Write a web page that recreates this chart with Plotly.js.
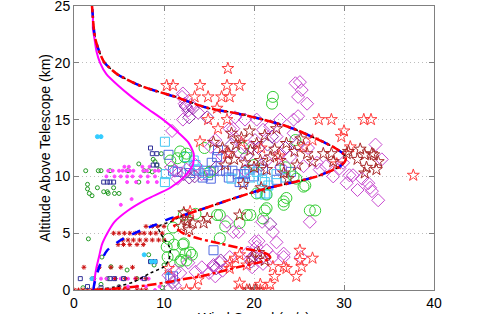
<!DOCTYPE html>
<html><head><meta charset="utf-8">
<script src="https://cdn.plot.ly/plotly-3.0.1.min.js"></script>
<style>html,body{margin:0;padding:0;background:#fff}#c{width:479px;height:314px}</style>
</head><body><div id="c"></div>
<script>
// ---- profile curves (wind speed m/s vs altitude km) ----
const magAlt = [0,1,2,3,4,5,6,7,8,9,10,11,12,13,14,15,16,17,18,19,20,21,22,23,24,25];
const magSpd = [2.2,2.3,2.5,2.8,3.1,3.7,4.5,6.0,8.1,10.7,12.3,13.2,13.3,12.7,11.4,9.9,8.1,6.4,4.9,3.6,2.9,2.5,2.3,2.1,2.1,2.0];

const blueAlt = [0,0.3,1,2,3,3.5,4.4,5.1,5.7,6.3,6.6,7,8,8.8,9.15,9.5,10,10.5,10.85,11.3,11.6,12,12.5,13,13.5,14,14.5,15,15.5,16,16.5,17,17.5,18,19,20,21,22,23,24,25];
const blueSpd = [2.2,2.2,2.4,2.8,3.3,3.7,5.2,7.0,8.9,10.7,12.2,13.8,17.5,20.7,22.5,24.5,27.0,28.6,29.5,30.1,30.2,29.9,29.0,27.8,26.4,25.0,23.3,21.0,18.4,15.0,13.0,11.3,9.2,7.3,4.8,3.4,2.8,2.4,2.2,2.1,2.0];

const redAlt = [0,0.15,0.4,0.7,0.9,1.2,1.6,2.05,2.45,2.8,3.1,3.4,3.7,4.1,4.5,5.0,5.6,6.2,6.6,7,8,8.8,9.15,9.5,10,10.5,10.85,11.3,11.6,12,12.5,13,13.5,14,14.5,15,15.5,16,16.5,17,17.5,18,19,20,21,22,23,24,25];
const redSpd = [2.2,5.0,8.0,10.5,11.8,14.0,16.2,18.4,20.7,21.8,21.6,20.7,18.4,16.2,14.0,12.1,11.2,11.0,12.2,13.8,17.5,20.7,22.5,24.5,27.0,28.6,29.5,30.1,30.2,29.9,29.0,27.8,26.4,25.0,23.3,21.0,18.4,15.0,13.0,11.3,9.2,7.3,4.8,3.4,2.8,2.4,2.2,2.1,2.0];

const blkAlt = [0,0.3,0.73,1.5,2.05,2.6,3.2,3.8,4.4,5.0,5.4,5.7,6.0,6.6,7,8,8.8,9.15,9.5,10,10.5,10.85,11.3,11.6,12,12.5,13,13.5,14,14.5,15,15.5,16,16.5,17,17.5,18,19,20,21,22,23,24,25];
const blkSpd = [2.2,4.8,6.7,8.5,10.0,10.5,10.7,10.6,10.1,9.6,9.4,9.6,10.7,12.2,13.8,17.5,20.7,22.5,24.5,27.0,28.6,29.5,30.1,30.2,29.9,29.0,27.8,26.4,25.0,23.3,21.0,18.4,15.0,13.0,11.3,9.2,7.3,4.8,3.4,2.8,2.4,2.2,2.1,2.0];

// ---- measured points ----
const redStarX = [17.1,10.3,11,14,17,18.4,13.4,14.9,16.4,17.3,15.9,14.9,17,27.2,28.6,32.2,33,30,29.7,14,18.6,30.7,37.7,17,25.1,25.1,22.1,23.3,25.3,19.2,17.3,18.4,17.3,22.3,23.6,24.7,12.5,13.4,18.4,19.2,20,20.7,21.4,18.4,20.7,21.8,22.8,20.8,16,25.5,26.5,29.2,12.9,10.5,13.8,26.5,17.9];
const redStarY = [19.5,18,18,18,18,18,17,17,17,17,16,15,15,15,15,15,15,14,13.5,13.05,13,12.6,10.1,12,3.5,2.6,2.05,2.05,2.05,2.2,2.35,3.1,1.9,1.2,1.9,1.2,0,0,0,0,0,0,0,0.6,0.5,0.5,11.8,12.5,14.2,12.6,13.2,11.1,6.9,1.9,0.9,2.8,2.8];

const dkStarX = [15.5,16.5,17.2,18.0,18.6,19.6,20.3,20.7,21.8,22.9,23.6,21.4,20.0,19.0,17.8,16.8,22.3,24.5,25.9,27.7,26.5,24.8,23.3,19.5,21.2,22.5,17.5,25.2,18.8,20.8,23.8,28.6,28.8,30.5,31.5,32.3,33.1,33.8,33.3,32.5,33.6,32.3,31.8,30.3,11.9,12.6,12.8,12.2,13.2,14.4,14.8,18.4,12.5,19.8,20.5,21.2,19.5,20.2];
const dkStarY = [13.0,12.5,12.0,12.8,13.4,12.3,12.9,11.4,11.7,11.4,12.9,10.6,10.8,11.2,11.5,11.0,12.4,12.2,12.0,12.0,11.3,11.0,10.3,14.0,13.6,14.2,13.8,13.3,9.3,9.0,9.8,12,11.3,12.2,11.5,11.9,12,11.3,11.9,10.8,10.6,10.3,12.4,12,5.6,6.2,5.3,6.8,5.9,5.9,6.3,6.6,6.0,2.8,3.3,2.6,0,0];

const diaAX = [12,12.5,13.8,12.1,10.9,12.3,13,12.1,12.7,24.6,25.1,25.3,24.9,25.9,17.7,17.9,19,20.3,22.9,24.4,24.9,15.7,20.1,21,21.8,22.5,19.7,21.4,22.9,24,27,27.3,28,17.3,18.5,16.5,19,23,25.5,26,24.4,18,15.2,28.8,30.3,30.6,32.9,33.8,32.7,33.1,31,29.5,29.9,32,31.5,34.2,33.5,11.2,12.5,13.5,11.5,10.8,14.2,26.2,20.9,22.1,20.1,17,18.3,17.7,20.3,19.3,20,20.8,21.4,19.6,20.5,21,19.8,15,15.5,16.2,16.5,15.7,14.2,13.5,12.7,11.2,23.3,23.3,22.1,25.2,10.7,11.2,11.8,10.5,22.5,17.3,15.5];
const diaAY = [17,16.1,15.6,15,14,16.4,16.3,17.3,15.8,18.2,18.3,17.6,17,16.4,14.2,15.2,15,15,15,15,15.3,13.2,13.2,14.1,14.4,13.5,12.6,11.4,12,11.7,11.2,10.6,10.9,14.2,12,11.8,10.5,10.8,10.9,12.5,13.8,13.3,12.6,10,9.4,10.1,9,7.9,9.4,8.7,10.1,10.7,11.2,9.8,8.8,11.5,12.8,10.5,10.6,11.0,9.8,10.8,10.2,6.0,6.0,5.1,4.25,6,5.1,5.1,3.8,3.3,3,2.8,3.5,2.7,4.3,2.3,2.0,1.5,2.2,2.4,1.7,1.2,2.0,1.6,2.4,1.7,3.2,2.9,2.9,2.9,0.15,0.4,1.5,1.3,4.2,2.9,2.05];

const diaBX = [12.4,13.2,12.8,14.8,20.5,21.5,22,19.2,20.8,23.5,17.5,15.8,13.4,12.2,12.8,20.2,19.7,15.8,16.3,11,21.8,24.8];
const diaBY = [16.2,16,15.2,15.2,12.5,12.8,13.5,11.8,11,12.5,12.8,10.8,10.0,10.2,9.9,3.2,2.5,1.9,2.6,0.7,5.8,12.8];

const grnX = [22.1,22,20.3,21.2,23.3,23.6,25.5,26.2,26.8,24.4,19.2,18.4,21.4,21.4,23.3,19.6,16.2,16.8,16.2,13.1,12.5,11.8,12.1,11.1,12.2,11.1,11.9,12.4,12.2,18.8,24.6,24.7,25.7,12.5,15.1,10.7,11.5,12.3,11.8,14.5,20,23.5,21,13.5,10.5,11,15.9,12.9,10.3,10.4];
const grnY = [17,16.4,8.5,7,7.5,8.1,9.1,7.0,7,10,6.6,5.9,8.4,7.2,7.8,6.6,6.6,5.6,4.55,3.1,2.6,2.5,4.0,4.0,4.1,3.1,2.65,3.2,6.6,12.5,13.2,9.8,9.2,12,10.4,11.4,11.6,11.7,12.2,12.5,11,10.8,6.3,6.7,4.5,5.5,6.6,3.3,3.8,2.9];

const bluSqX = [14.6,15.5,16.2,16.9,17.6,18.2,18.9,20,14.9,14.3,18.4,16,15.3,15.9,12.9,22.9,22.5,19.5,21,24.1,18.8,10.5,11,11.5,13.5,15.5,11,10.7,15.2,17.2];
const bluSqY = [10.5,10.5,10.5,10.5,10.5,10.2,10.2,10,10.1,9.9,9.5,12.3,11.2,11.7,10.3,10.6,9.7,10.6,10.6,10.4,9.5,11.9,10.5,10.4,10.5,3.5,1.2,1.0,9.8,9.9];

const cyaSqX = [12.5,13.3,13.5,12.8,13.8,20.3,20.9,21.6,21.4,20.7,21.2,21.2,19.5,10.1,10.1,10.2,22.5,17.5,19,23.5,14.5];
const cyaSqY = [11.7,11.4,11.0,10.9,10.6,10.4,9.7,9.2,8.5,8.5,9.5,8.4,9.9,13.05,9.5,10.2,10.2,9.8,10.4,9.9,10.3];

const smGrnX = [3,4,7.2,7.8,8.3,1.5,1.5,2,2.6,3.3,3.7,4.4,8.8,9,9.2,8.7,9.5,7.2,1.7,4.5,5,3.1,4.1,5.9,8.5,3.7,8.9,1.6,1.3,6,9.7,5.5,7,10,8.3,2.2,5,9.8,3,1,2.7,3.8];
const smGrnY = [10.5,10.5,11.1,10.5,10.5,9.3,8.9,8.3,9,8.65,8.65,9,11.5,11.3,11,10.4,10.6,9.5,8.5,8.5,8.5,2.9,2.05,1.76,2.5,1.0,2.2,4.5,10.5,10.5,12,1,1,2.2,3.1,1.0,0.3,0.2,0.5,0.2,10.5,8.5];

const smMagX = [3.8,4.3,5.0,5.4,5.8,6.2,6.6,7.7,8.1,9.0,9.4,3.6,4.5,5.2,5.9,6.5,7.4,8.2,9.0,5.9,6.9,8.2,9.2,5.6,6.1,7.6,8.4,6.4,5.2,3,3.6,4.5,5.2,6,6.8,7.5,8.3,5,6,7,8,9.5,4,6,9];
const smMagY = [10.5,10.5,10.5,10.5,10.5,10.5,10.5,10.5,10.5,10.5,10.5,10,10,10,10,10,10,10,10,9.5,9.5,9.5,9.5,10.85,10.85,10.85,10.85,8,7.5,1,1,1,1,1,1,1,1,0.3,0.3,0.3,0.3,0.3,0,0,0];

const smRedX = [4.4,5,5.6,6.2,6.8,7.3,7.8,8.5,9.1,9.8,5.4,6,6.6,7.3,8,8.7,9.4,10,4.9,5.5,6.2,7,7.7,8.0,8.7,9.3,10,1.1,2.8,4.1,5.2,6.5,2,4.6,5.7,6.9,8,0,0.5,1,1.5,2,2.6,3,3.5,4,4.5,5,5.5,6,7,7.5,8];
const smRedY = [5,5,5,5,5,5,5,5,5,5,4.4,4.4,4.4,4.4,4.4,4.4,4.4,4.4,4,4,4,4,4,5.6,5.6,5.6,5.6,2,2,2,2,2,1,1,1,1,1,0,0,0,0,0,0,0,0,0,0,0,0,0,0,0,0];

const smBluX = [8.5,8.7,9.2,3.3,3.7,4.4,4.0,8.8,9.2,0.7,4,4.5,5.5,7.8,8.5,9,1.5,3];
const smBluY = [12.5,12,12,9.5,9.5,9.5,9.5,11,11,1.0,1,1,1,1,2.5,2.5,0.3,0.2];

const smCyaX = [2.6,3.0,7.8,8.6,9.0,2.0,10.5];
const smCyaY = [13.5,13.5,3.1,2.5,2.5,1.0,1.5];

const xTicks = [0,10,20,30,40];
const yTicks = [0,5,10,15,20,25];

function pts(x, y, sym, size, color) {
  return {x: x, y: y, type: 'scatter', mode: 'markers', showlegend: false, hoverinfo: 'skip',
    marker: {symbol: sym, size: size, color: color, line: {color: color, width: 1}}};
}
function line(x, y, color, dash, w) {
  return {x: x, y: y, type: 'scatter', mode: 'lines', showlegend: false, hoverinfo: 'skip',
    line: {color: color, dash: dash, width: w, shape: 'spline', smoothing: 0.6}};
}

const traces = [
  pts(smGrnX, smGrnY, 'circle-open', 4, '#229922'),
  pts(smMagX, smMagY, 'circle', 3, '#ff44ff'),
  pts(smRedX, smRedY, 'asterisk-open', 4, '#cc1111'),
  pts(smBluX, smBluY, 'square-open', 4, '#333399'),
  pts(smCyaX, smCyaY, 'circle', 4, '#33ccff'),
  pts(bluSqX, bluSqY, 'square-open', 9, '#5068e0'),
  pts(cyaSqX, cyaSqY, 'square-open', 9, '#44c8f4'),
  pts(grnX, grnY, 'circle-open', 11, '#33cc33'),
  pts(diaAX, diaAY, 'diamond-open', 10, '#c848d0'),
  pts(diaBX, diaBY, 'diamond-open', 10, '#8a30a8'),
  pts(redStarX, redStarY, 'star-open', 9, '#ff3c3c'),
  pts(dkStarX, dkStarY, 'star-open', 9, '#a82828'),
  line(blkSpd, blkAlt, '#000000', 'dot', 1.5),
  line(magSpd, magAlt, '#ff00ff', 'solid', 2),
  line(blueSpd, blueAlt, '#0000ff', 'dash', 2.5),
  line(redSpd, redAlt, '#ff0000', 'dashdot', 2.5)
];

const axisCommon = {
  showline: true, linecolor: '#808080', linewidth: 1, mirror: 'ticks',
  ticks: 'inside', ticklen: 5, tickcolor: '#808080',
  showgrid: true, gridcolor: '#bdbdbd', griddash: '1px,3px', gridwidth: 1,
  zeroline: false, ticklabeloverflow: 'allow',
  tickfont: {family: 'Arial, Liberation Sans', size: 14, color: '#000'}
};

const layout = {
  width: 479, height: 314,
  margin: {l: 74, r: 45, t: 6, b: 24},
  paper_bgcolor: '#fff', plot_bgcolor: '#fff',
  font: {family: 'Arial, Liberation Sans', size: 14, color: '#000'},
  xaxis: Object.assign({}, axisCommon, {range: [0, 40], tickvals: xTicks, ticktext: xTicks.map(String)}),
  yaxis: Object.assign({}, axisCommon, {range: [0, 25], tickvals: yTicks, ticktext: yTicks.map(String),
    title: {text: 'Altitude Above Telescope (km)', font: {size: 14}, standoff: 0}}),
  annotations: [{text: 'Wind Speed (m/s)', xref: 'paper', yref: 'paper', x: 0.5, y: 0,
    xanchor: 'center', yanchor: 'top', yshift: -17.5, showarrow: false,
    font: {family: 'Arial, Liberation Sans', size: 14, color: '#000'}}]
};

Plotly.newPlot('c', traces, layout, {staticPlot: true, displayModeBar: false});
</script>
</body></html>
